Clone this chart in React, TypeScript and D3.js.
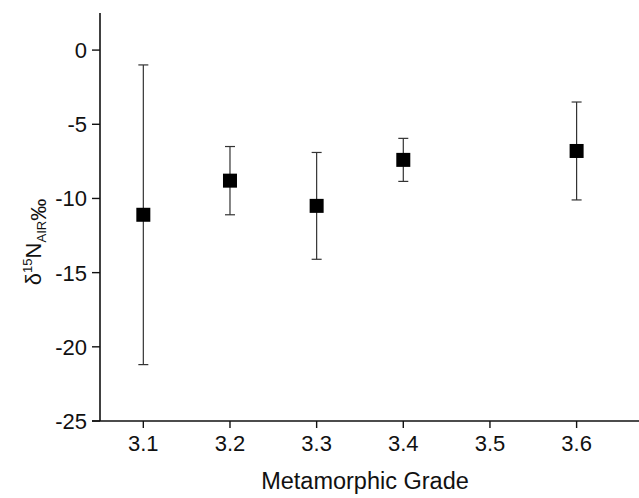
import React from 'react';
import * as d3 from 'd3';

// metamorphic grade vs delta 15N (mean with error)
const grades = [3.1, 3.2, 3.3, 3.4, 3.6];
const means = [-11.1, -8.8, -10.5, -7.4, -6.8];
const errors = [10.1, 2.3, 3.6, 1.45, 3.3];
const xTicks = [3.1, 3.2, 3.3, 3.4, 3.5, 3.6];
const yTicks = [0, -5, -10, -15, -20, -25];

const W = 639;
const H = 498;

const App = () => {
  const x = d3.scaleLinear().domain([3.05, 3.672]).range([100, 639]);
  const y = d3.scaleLinear().domain([-25, 2.5]).range([421, 13]);
  const font = 'Arial, "Liberation Sans", sans-serif';
  const sq = 14;
  const cap = 5;

  return (
    <svg width={W} height={H} style={{ display: 'block', position: 'absolute', left: 0, top: 0 }} fontFamily={font}>
      <rect width={W} height={H} fill="#fff" />

      {/* error bars */}
      {grades.map((g, i) => {
        const cx = x(g);
        const top = y(means[i] + errors[i]);
        const bot = y(means[i] - errors[i]);
        return (
          <g key={'e' + i} stroke="#333" strokeWidth={1.2}>
            <line x1={cx} x2={cx} y1={top} y2={bot} />
            <line x1={cx - cap} x2={cx + cap} y1={top} y2={top} />
            <line x1={cx - cap} x2={cx + cap} y1={bot} y2={bot} />
          </g>
        );
      })}
      {grades.map((g, i) => (
        <rect key={'p' + i} x={x(g) - sq / 2} y={y(means[i]) - sq / 2} width={sq} height={sq} fill="#000" />
      ))}

      {/* axes */}
      <line x1={x.range()[0]} x2={x.range()[0]} y1={y.range()[1]} y2={y.range()[0]} stroke="#111" strokeWidth={1.6} />
      <line x1={x.range()[0] - 8} x2={W} y1={y.range()[0]} y2={y.range()[0]} stroke="#111" strokeWidth={1.6} />

      {yTicks.map(t => (
        <g key={'y' + t}>
          <line x1={92} x2={100} y1={y(t)} y2={y(t)} stroke="#111" strokeWidth={1.4} />
          <text x={87} y={y(t)} dy="0.36em" textAnchor="end" fontSize={22} fill="#111">{t}</text>
        </g>
      ))}
      {xTicks.map(t => (
        <g key={'x' + t}>
          <line x1={x(t)} x2={x(t)} y1={421} y2={428} stroke="#111" strokeWidth={1.4} />
          <text x={x(t)} y={451} textAnchor="middle" fontSize={22} fill="#111">{d3.format('.1f')(t)}</text>
        </g>
      ))}

      <text x={365} y={489} textAnchor="middle" fontSize={23.5} fill="#111">Metamorphic Grade</text>

      <text transform="translate(41,242) rotate(-90)" textAnchor="middle" fontSize={22} fill="#111">
        <tspan>δ</tspan>
        <tspan fontSize={13} dy={-9}>15</tspan>
        <tspan dy={9}>N</tspan>
        <tspan fontSize={13} dy={5}>AIR</tspan>
        <tspan dy={0}>‰</tspan>
      </text>
    </svg>
  );
};

export default App;
